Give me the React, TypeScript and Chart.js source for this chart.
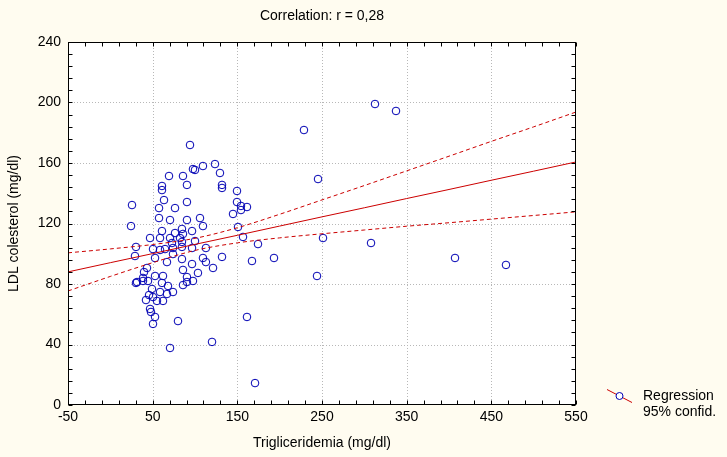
import React, { useEffect, useRef } from "react";
import { Chart, registerables } from "chart.js";

Chart.register(...registerables);

// ---- data ----
const triglycerides = [
  25.6, 24.4, 30.3, 29.1, 31.5, 39.8, 43.3, 38.6, 30.3, 38.6, 44.5, 42.1, 45.7, 46.9, 48.0, 50.4,
  52.8, 50.4, 49.2, 46.9, 50.4, 52.8, 52.8, 57.5, 57.5, 58.7, 58.7, 61.0, 61.0, 63.4, 61.0, 58.7,
  61.0, 62.2, 62.2, 55.1, 66.9, 68.1, 64.6, 66.9, 69.3, 70.5, 70.5, 72.8, 74.0, 74.0, 76.4, 76.4,
  74.0, 70.5, 79.9, 82.3, 84.6, 84.6, 84.6, 84.6, 85.8, 85.8, 85.8, 85.8, 90.5, 90.5, 90.5, 90.5,
  90.5, 94.1, 96.5, 96.5, 96.5, 97.6, 97.6, 100.0, 103.5, 105.9, 109.4, 109.4, 109.4, 112.9, 112.9,
  121.3, 120.1, 123.6, 129.5, 131.9, 131.9, 131.9, 144.9, 149.6, 149.6, 150.8, 154.3, 154.3, 161.4,
  156.7, 161.4, 167.3, 174.4, 170.9, 193.3, 228.7, 245.3, 244.1, 251.2, 312.6, 307.9, 337.4, 407.1,
  467.3, 100.0,
];
const ldlCholesterol = [
  132.2, 118.3, 104.5, 98.5, 81.3, 87.9, 90.6, 84.0, 80.7, 82.0, 82.0, 69.4, 72.7, 63.5, 61.5, 53.6,
  58.2, 71.4, 76.7, 110.4, 103.1, 97.2, 85.3, 130.2, 123.6, 110.4, 102.5, 144.8, 142.1, 135.5, 115.0, 74.7,
  80.7, 85.3, 68.8, 68.8, 73.4, 78.7, 103.1, 94.5, 151.4, 122.3, 110.4, 107.1, 103.8, 99.8, 130.2, 113.7,
  74.7, 37.7, 55.5, 110.4, 116.4, 107.8, 104.5, 96.5, 151.4, 113.1, 89.3, 79.3, 145.5, 134.2, 122.3, 84.6,
  81.3, 171.9, 115.0, 103.8, 93.2, 156.0, 82.0, 155.4, 87.3, 123.6, 158.0, 118.3, 97.2, 103.8, 94.5,
  90.6, 41.7, 159.3, 153.4, 145.5, 143.5, 97.9, 126.3, 141.5, 134.2, 117.7, 131.6, 128.9, 130.9,
  111.1, 58.2, 95.2, 106.4, 14.5, 97.2, 181.8, 149.4, 85.3, 110.4, 199.0, 107.1, 194.4, 97.2,
  92.6, 108.4,
];

const lineX = [-50, 0, 50, 100, 150, 200, 250, 300, 350, 400, 450, 500, 550];
const regressionY = [88.0, 94.1, 100.1, 106.2, 112.2, 118.3, 124.4, 130.4, 136.5, 142.5, 148.6, 154.6, 160.7];
const upperConfY = [100.6, 103.2, 106.1, 110.2, 117.2, 126.1, 135.6, 145.1, 154.8, 164.5, 174.3, 183.9, 193.7];
const lowerConfY = [75.4, 85.0, 94.1, 102.2, 107.2, 110.5, 113.2, 115.7, 118.2, 120.5, 122.9, 125.3, 127.7];

const xTickValues = [-50, 50, 150, 250, 350, 450, 550];
const yTickValues = [0, 40, 80, 120, 160, 200, 240];
const xMinorStep = 20;
const yMinorStep = 8;

const chartTitle = "Correlation: r = 0,28";
const xAxisTitle = "Trigliceridemia (mg/dl)";
const yAxisTitle = "LDL colesterol (mg/dl)";
const legendLabels = ["Regression", "95% confid."];

const BG = "#fffcf0";
const POINT = "#0000b4";
const RED = "#cc0000";
const FONT = "'Liberation Sans', Arial, sans-serif";
const FS = 14;

export default function App() {
  const ref = useRef<HTMLCanvasElement | null>(null);

  useEffect(() => {
    document.body.style.margin = "0";
    document.body.style.background = BG;
    const canvas = ref.current;
    if (!canvas) return;

    const framePlugin = {
      id: "frame",
      beforeDraw(chart: any) {
        const { ctx, width, height } = chart;
        ctx.save();
        ctx.fillStyle = BG;
        ctx.fillRect(0, 0, width, height);
        const a = chart.chartArea;
        ctx.fillStyle = "#ffffff";
        ctx.fillRect(a.left, a.top, a.right - a.left, a.bottom - a.top);
        ctx.restore();
      },
      beforeDatasetsDraw(chart: any) {
        const { ctx, chartArea: a, scales } = chart;
        const xs = scales.x;
        const ys = scales.y;
        ctx.save();
        ctx.strokeStyle = "#b8b8b8";
        ctx.lineWidth = 1;
        ctx.setLineDash([1, 2]);
        xTickValues.slice(1, -1).forEach((v) => {
          const px = Math.round(xs.getPixelForValue(v)) + 0.5;
          ctx.beginPath();
          ctx.moveTo(px, a.top);
          ctx.lineTo(px, a.bottom);
          ctx.stroke();
        });
        yTickValues.slice(1, -1).forEach((v) => {
          const py = Math.round(ys.getPixelForValue(v)) + 0.5;
          ctx.beginPath();
          ctx.moveTo(a.left, py);
          ctx.lineTo(a.right, py);
          ctx.stroke();
        });
        ctx.restore();
      },
      afterDraw(chart: any) {
        const { ctx, chartArea: a, scales } = chart;
        const xs = scales.x;
        const ys = scales.y;
        ctx.save();
        ctx.setLineDash([]);
        ctx.strokeStyle = "#000";
        ctx.lineWidth = 1;
        const L = Math.round(a.left) + 0.5;
        const R = Math.round(a.right) - 0.5;
        const T = Math.round(a.top) + 0.5;
        const B = Math.round(a.bottom) - 0.5;
        ctx.strokeRect(L, T, R - L, B - T);
        const tl = 4;
        ctx.beginPath();
        for (let v = xTickValues[0]; v <= xTickValues[xTickValues.length - 1]; v += xMinorStep) {
          const px = Math.round(xs.getPixelForValue(v)) + 0.5;
          ctx.moveTo(px, T);
          ctx.lineTo(px, T + tl);
          ctx.moveTo(px, B);
          ctx.lineTo(px, B - tl);
        }
        for (let v = yTickValues[0]; v <= yTickValues[yTickValues.length - 1]; v += yMinorStep) {
          const py = Math.round(ys.getPixelForValue(v)) + 0.5;
          ctx.moveTo(L, py);
          ctx.lineTo(L + tl, py);
          ctx.moveTo(R, py);
          ctx.lineTo(R - tl, py);
        }
        ctx.stroke();

        // texts
        ctx.fillStyle = "#000";
        ctx.font = `${FS}px ${FONT}`;
        ctx.textAlign = "center";
        ctx.textBaseline = "middle";
        const cx = (a.left + a.right) / 2;
        ctx.fillText(chartTitle, cx, 16);
        ctx.fillText(xAxisTitle, cx, 443);
        ctx.save();
        ctx.translate(14, (a.top + a.bottom) / 2);
        ctx.rotate(-Math.PI / 2);
        ctx.fillText(yAxisTitle, 0, 0);
        ctx.restore();

        // legend
        ctx.strokeStyle = RED;
        ctx.beginPath();
        ctx.moveTo(607, 389.5);
        ctx.lineTo(632, 402.5);
        ctx.stroke();
        ctx.fillStyle = "#ffffff";
        ctx.strokeStyle = POINT;
        ctx.beginPath();
        ctx.arc(619.5, 396, 3.5, 0, Math.PI * 2);
        ctx.fill();
        ctx.stroke();
        ctx.fillStyle = "#000";
        ctx.textAlign = "left";
        ctx.fillText(legendLabels[0], 643, 396);
        ctx.fillText(legendLabels[1], 643, 412);
        ctx.restore();
      },
    };

    const chart = new Chart(canvas, {
      type: "scatter",
      data: {
        datasets: [
          {
            label: "points",
            data: triglycerides.map((x, i) => ({ x, y: ldlCholesterol[i] })),
            showLine: false,
            pointStyle: "circle",
            pointRadius: 3.8,
            pointBorderWidth: 1,
            pointBorderColor: POINT,
            pointBackgroundColor: "rgba(0,0,0,0)",
            order: 2,
          },
          {
            label: "regression",
            data: lineX.map((x, i) => ({ x, y: regressionY[i] })),
            showLine: true,
            borderColor: RED,
            borderWidth: 1,
            pointRadius: 0,
            order: 1,
          },
          {
            label: "upper",
            data: lineX.map((x, i) => ({ x, y: upperConfY[i] })),
            showLine: true,
            borderColor: RED,
            borderWidth: 1,
            borderDash: [4, 3],
            pointRadius: 0,
            cubicInterpolationMode: "monotone",
            order: 1,
          },
          {
            label: "lower",
            data: lineX.map((x, i) => ({ x, y: lowerConfY[i] })),
            showLine: true,
            borderColor: RED,
            borderWidth: 1,
            borderDash: [4, 3],
            pointRadius: 0,
            cubicInterpolationMode: "monotone",
            order: 1,
          },
        ],
      },
      options: {
        responsive: false,
        animation: false,
        devicePixelRatio: 1,
        layout: { padding: { left: 0, right: 151, top: 42, bottom: 0 } },
        plugins: {
          legend: { display: false },
          title: { display: false },
          tooltip: { enabled: false },
        },
        scales: {
          x: {
            type: "linear",
            min: -50,
            max: 550,
            afterBuildTicks: (s: any) => {
              s.ticks = xTickValues.map((v) => ({ value: v }));
            },
            afterFit: (s: any) => {
              s.height = 52;
            },
            grid: { display: false, drawTicks: false },
            border: { display: false },
            ticks: {
              color: "#000",
              font: { family: FONT, size: FS },
              padding: 4,
              maxRotation: 0,
              autoSkip: false,
            },
          },
          y: {
            type: "linear",
            min: 0,
            max: 240,
            afterBuildTicks: (s: any) => {
              s.ticks = yTickValues.map((v) => ({ value: v }));
            },
            afterFit: (s: any) => {
              s.width = 68;
            },
            grid: { display: false, drawTicks: false },
            border: { display: false },
            ticks: {
              color: "#000",
              font: { family: FONT, size: FS },
              padding: 7,
              autoSkip: false,
            },
          },
        },
      },
      plugins: [framePlugin],
    } as any);

    return () => chart.destroy();
  }, []);

  return (
    <div style={{ width: 727, height: 457, background: BG }}>
      <canvas ref={ref} width={727} height={457} style={{ display: "block" }} />
    </div>
  );
}
